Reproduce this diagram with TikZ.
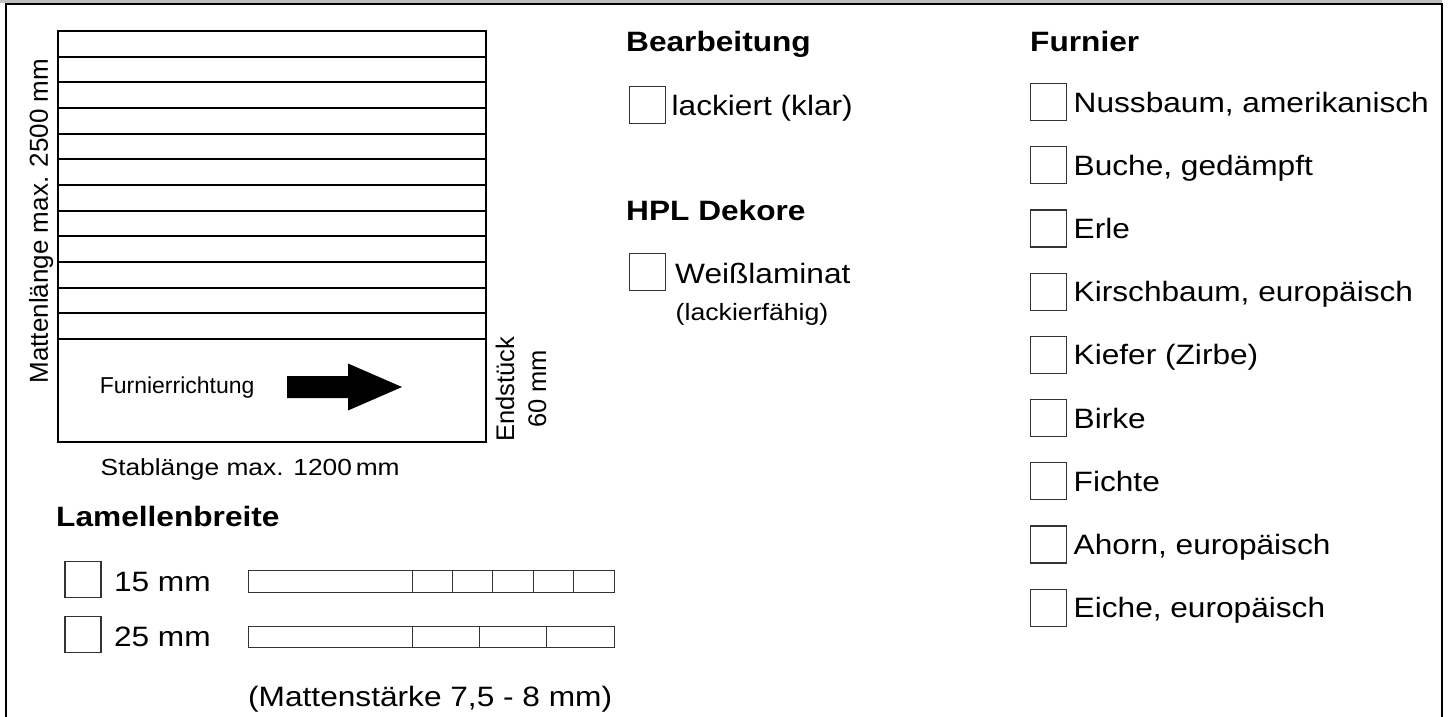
\documentclass[tikz,border=0pt]{standalone}
\usepackage{fontspec}
\setmainfont{Liberation Sans}
\newfontfamily\widesf[FakeStretch=1.13]{Liberation Sans}
\tikzset{
  chkbox/.style={draw=black!80, line width=1.2pt, minimum width=36pt, minimum height=37pt, inner sep=0pt, anchor=north west},
  entry/.style={anchor=base west, inner sep=0pt, font=\widesf\fontsize{28}{34}\selectfont},
  heading/.style={entry, font=\widesf\bfseries\fontsize{28}{34}\selectfont},
  slat/.style={line width=2pt},
  widthbar/.style={draw=black!80, line width=1pt}
}
\begin{document}
\begin{tikzpicture}[x=1pt,y=-1pt]
\useasboundingbox (0,0) rectangle (1448,716);
% frame
\fill[black!25] (0,0) rectangle (1442,3.2);
\draw[line width=2pt] (6,720) -- (6,4) -- (1442,4) -- (1442,720);
% mat with slats
\draw[slat] (58,31) rectangle (486,441.5);
\foreach \k in {1,...,12}
  \draw[slat] (58,{31+\k*25.67}) -- (486,{31+\k*25.67});
\node[rotate=90, anchor=base, inner sep=0pt, font=\fontsize{26}{31}\selectfont] (mlen) at (47.8,221) {Mattenlänge max. 2500 mm};
\node[rotate=90, align=center, inner sep=0pt, font=\fontsize{25.5}{32}\selectfont] (endst) at (521,389) {Endstück\\60 mm};
\node[anchor=base west, inner sep=0pt, font=\fontsize{23}{28}\selectfont] (dir) at (99.6,393.5) {Furnierrichtung};
\fill (287,376) -- (348,376) -- (348,363.5) -- (402,387) -- (348,410.5) -- (348,398) -- (287,398) -- cycle;
\node[entry, font=\widesf\fontsize{23.3}{28}\selectfont] (stab) at (100.5,475) {Stablänge max. 1200\,mm};
% Lamellenbreite
\node[heading] (lam) at (56,526.5) {Lamellenbreite};
\node[chkbox, minimum height=36pt] (w15) at (64.3,560.7) {};
\node[entry] (w15t) at (113.8,591.7) {15 mm};
\node[chkbox, minimum height=36pt] (w25) at (64.3,615.7) {};
\node[entry] (w25t) at (113.8,646) {25 mm};
\draw[widthbar] (248,570) rectangle (614,592);
\foreach \x in {412,452.4,492.8,533.2,573.6}
  \draw[widthbar] (\x,570) -- (\x,592);
\draw[widthbar] (248,626) rectangle (614,647);
\foreach \x in {412,479.3,546.7}
  \draw[widthbar] (\x,626) -- (\x,647);
\node[entry] (thick) at (248,706.5) {(Mattenstärke 7,5 - 8 mm)};
% Bearbeitung / HPL
\node[heading] (proc) at (626,51.7) {Bearbeitung};
\node[chkbox] (lack) at (628.5,86) {};
\node[entry] (lackt) at (671.5,115) {lackiert (klar)};
\node[heading] (hpl) at (626,220) {HPL Dekore};
\node[chkbox] (weiss) at (629,253) {};
\node[entry] (weisst) at (675,283) {Weißlaminat};
\node[entry, font=\widesf\fontsize{23.6}{28}\selectfont] (lackf) at (675.5,320) {(lackierfähig)};
% Furnier
\node[heading] (furn) at (1030,51.7) {Furnier};
\foreach \t [count=\i from 0] in {{Nussbaum, amerikanisch},{Buche, gedämpft},Erle,{Kirschbaum, europäisch},{Kiefer (Zirbe)},Birke,Fichte,{Ahorn, europäisch},{Eiche, europäisch}}
{\node[chkbox] (f\i) at (1030,{83+\i*63.2}) {};
\node[entry] (ft\i) at (1073.5,{112+\i*63.2}) {\t};}
\end{tikzpicture}
\end{document}
